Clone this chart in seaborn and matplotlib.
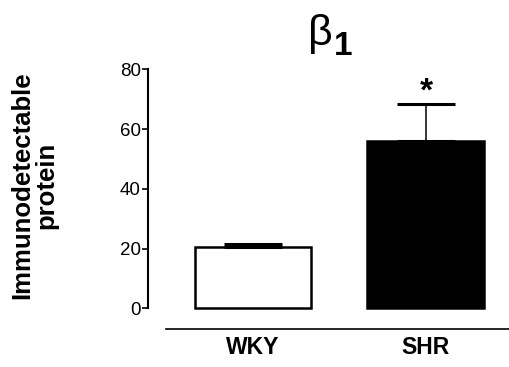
import numpy as np
import pandas as pd
import matplotlib
matplotlib.use("Agg")
import matplotlib.pyplot as plt
import seaborn as sns

# ---- data ----
groups = ["WKY", "SHR"]
means = [20.6, 56.0]
sems = [0.9, 12.4]
bar_colors = ["white", "black"]
yticks = [0, 20, 40, 60, 80]
ylabel = "Immunodetectable\nprotein"
significance = ["", "*"]

sns.set_theme(style="white")
plt.rcParams["font.family"] = ["Liberation Sans", "DejaVu Sans"]
plt.rcParams["text.color"] = "black"
plt.rcParams["axes.labelcolor"] = "black"
plt.rcParams["xtick.color"] = "black"
plt.rcParams["ytick.color"] = "black"

W, H = 510, 367
fig = plt.figure(figsize=(W / 100, H / 100), dpi=100)
ax = fig.add_axes([148 / W, 1 - 329 / H, 362 / W, (329 - 69.3) / H])

df = pd.DataFrame({"group": groups, "value": means})
sns.barplot(data=df, x="group", y="value", hue="group",
            palette=dict(zip(groups, bar_colors)), edgecolor="black",
            linewidth=1.8, width=0.676, errorbar=None, legend=False,
            saturation=1, ax=ax)

pos = np.arange(len(groups))
ax.errorbar(pos, means, yerr=[np.zeros(len(sems)), sems], fmt="none",
            ecolor="black", elinewidth=1.1, capsize=21, capthick=2.2,
            zorder=1)

for p, m, s, lab in zip(pos, means, sems, significance):
    if lab:
        ax.text(p, m + s + 1.0, lab, ha="center", va="baseline",
                fontsize=24, fontweight="bold")

ax.set_xlim(-0.607, 1.486)
ax.set_ylim(-6.93, 80)
ax.set_yticks(yticks)
ax.set_xlabel("")
ax.set_ylabel(ylabel, fontsize=18.5, fontweight="bold", linespacing=1.0)
ax.yaxis.set_label_coords(-0.249, 0.554)

for side in ["top", "right"]:
    ax.spines[side].set_visible(False)
ax.spines["left"].set_bounds(0, 80)
ax.spines["left"].set_linewidth(1.5)
ax.spines["left"].set_color("black")
ax.spines["bottom"].set_bounds(-0.503, 1.486)
ax.spines["bottom"].set_linewidth(1.2)
ax.spines["bottom"].set_color("black")

ax.tick_params(axis="y", left=True, length=4.3, width=1.2, labelsize=13.5, pad=1)
ax.tick_params(axis="x", bottom=False, length=0, labelsize=16.5, pad=5)
for t in ax.get_xticklabels():
    t.set_fontweight("bold")

fig.text(320 / W, 1 - 45 / H, "β", ha="center", va="baseline", fontsize=31)
fig.text(334 / W, 1 - 55 / H, "1", ha="left", va="baseline", fontsize=24,
         fontweight="bold")

fig.savefig("out.png", dpi=100)
